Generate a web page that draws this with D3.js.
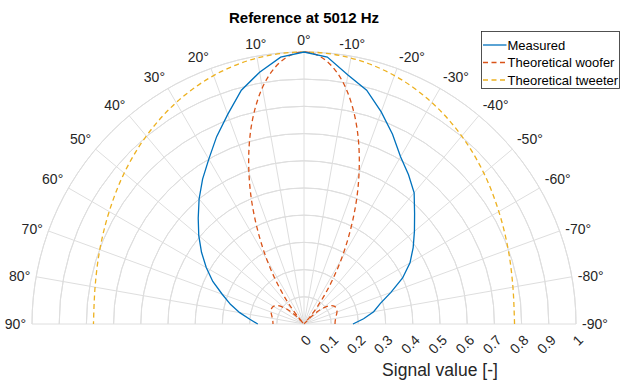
<!DOCTYPE html>
<html lang="en">
<head>
<meta charset="UTF-8">
<title>Reference at 5012 Hz</title>
<script src="https://cdn.jsdelivr.net/npm/d3@7"></script>
<style>
  body, html { margin: 0; background: #fff; }
  svg { display: block; font-family: "Liberation Sans", Arial, sans-serif; }
  .tick-label { font-size: 14px; fill: #262626; }
</style>
</head>
<body>
<svg id="chart" width="621" height="383"></svg>
<script>
// angles in degrees, positive = counter-clockwise from the top (MATLAB polar)
const thetaTicks = [-90, -80, -70, -60, -50, -40, -30, -20, -10, 0, 10, 20, 30, 40, 50, 60, 70, 80, 90];
const thetaTickLabels = ["-90°", "-80°", "-70°", "-60°", "-50°", "-40°", "-30°", "-20°", "-10°", "0°",
                         "10°", "20°", "30°", "40°", "50°", "60°", "70°", "80°", "90°"];
const rTicks = [0, 0.1, 0.2, 0.3, 0.4, 0.5, 0.6, 0.7, 0.8, 0.9, 1];
const rTickLabels = ["0", "0.1", "0.2", "0.3", "0.4", "0.5", "0.6", "0.7", "0.8", "0.9", "1"];

const seriesNames = ["Measured", "Theoretical woofer", "Theoretical tweeter"];

const measuredAngles = [-90, -85, -80, -75, -70, -65, -60, -55, -50, -45, -40, -35, -30, -25, -20, -15, -10, -5,
                        0, 5, 10, 15, 20, 25, 30, 35, 40, 45, 50, 55, 60, 65, 70, 75, 80, 85, 90];
const measuredValues = [0.18, 0.22, 0.26, 0.29, 0.34, 0.40, 0.45, 0.49, 0.53, 0.575, 0.63, 0.67, 0.71, 0.77, 0.83, 0.89, 0.93, 0.985,
                        1.0, 0.985, 0.94, 0.89, 0.82, 0.76, 0.70, 0.65, 0.60, 0.55, 0.505, 0.46, 0.415, 0.37, 0.32, 0.28, 0.24, 0.20, 0.17];

const wooferAngles = [-90, -85, -80, -75, -70, -65, -60, -55, -50, -47.5, -45, -42, -40, -37.5, -35, -32.5, -30, -27.5,
                      -25, -22.5, -20, -17.5, -15, -12.5, -10, -7.5, -5, -2.5, 0, 2.5, 5, 7.5, 10, 12.5, 15, 17.5,
                      20, 22.5, 25, 27.5, 30, 32.5, 35, 37.5, 40, 42, 45, 47.5, 50, 55, 60, 65, 70, 75, 80, 85, 90];
const wooferValues = [0.114, 0.115, 0.118, 0.123, 0.129, 0.132, 0.130, 0.118, 0.090, 0.068, 0.041, 0.002, 0.034, 0.083,
                      0.139, 0.202, 0.273, 0.347, 0.427, 0.510, 0.592, 0.673, 0.750, 0.820, 0.882, 0.932, 0.969, 0.992,
                      1.0, 0.992, 0.969, 0.932, 0.882, 0.820, 0.750, 0.673, 0.592, 0.510, 0.427, 0.347, 0.273, 0.202,
                      0.139, 0.083, 0.034, 0.002, 0.041, 0.068, 0.090, 0.118, 0.130, 0.132, 0.129, 0.123, 0.118, 0.115, 0.114];

const tweeterAngles = [-90, -80, -70, -60, -50, -40, -30, -20, -10, 0, 10, 20, 30, 40, 50, 60, 70, 80, 90];
const tweeterValues = [0.774, 0.780, 0.799, 0.827, 0.863, 0.902, 0.940, 0.972, 0.993, 1.0,
                       0.993, 0.972, 0.940, 0.902, 0.863, 0.827, 0.799, 0.780, 0.774];

const colors = ["#0072BD", "#D95319", "#EDB120"];

const svg = d3.select("#chart");
const cx = 304, cy = 324, R = 272;
const r = d3.scaleLinear().domain([0, 1]).range([0, R]);
const rad = d => d * Math.PI / 180;

const g = svg.append("g").attr("transform", `translate(${cx},${cy})`);

// grid: rings
const arc = d3.arc().startAngle(-Math.PI / 2).endAngle(Math.PI / 2);
g.selectAll("path.ring")
  .data(rTicks.slice(1))
  .enter().append("path")
  .attr("class", "ring")
  .attr("d", d => arc({innerRadius: r(d), outerRadius: r(d)}))
  .attr("fill", "none")
  .attr("stroke", "#dedede")
  .attr("stroke-width", 1);

// grid: spokes
g.selectAll("line.spoke")
  .data(thetaTicks)
  .enter().append("line")
  .attr("class", "spoke")
  .attr("x1", 0).attr("y1", 0)
  .attr("x2", d => -r(1) * Math.sin(rad(d)))
  .attr("y2", d => -r(1) * Math.cos(rad(d)))
  .attr("stroke", "#dedede")
  .attr("stroke-width", 1);

// series
const radial = d3.lineRadial()
  .angle(d => -rad(d[0]))
  .radius(d => r(d[1]));

g.append("path")
  .attr("d", radial.curve(d3.curveCatmullRom)(d3.zip(tweeterAngles, tweeterValues)))
  .attr("fill", "none").attr("stroke", colors[2]).attr("stroke-width", 1.3)
  .attr("stroke-dasharray", "5,3.5");

g.append("path")
  .attr("d", radial.curve(d3.curveCatmullRom)(d3.zip(wooferAngles, wooferValues)))
  .attr("fill", "none").attr("stroke", colors[1]).attr("stroke-width", 1.3)
  .attr("stroke-dasharray", "5,3.5");

g.append("path")
  .attr("d", radial.curve(d3.curveLinear)(d3.zip(measuredAngles, measuredValues)))
  .attr("fill", "none").attr("stroke", colors[0]).attr("stroke-width", 1.3);

// angle labels
thetaTicks.forEach((t, i) => {
  const x = -(R + 6) * Math.sin(rad(t));
  const y = -(R + 6) * Math.cos(rad(t));
  const anchor = Math.abs(t) < 15 ? "middle" : (t > 0 ? "end" : "start");
  const yc = Math.abs(t) >= 65 ? y : y - 6;
  g.append("text")
    .attr("class", "tick-label")
    .attr("x", x).attr("y", yc).attr("dy", "0.35em")
    .attr("text-anchor", anchor)
    .text(thetaTickLabels[i]);
});

// radial tick labels (rotated)
rTicks.forEach((v, i) => {
  g.append("text")
    .attr("class", "tick-label")
    .attr("transform", `translate(${r(v) + 8},17) rotate(-45)`)
    .attr("text-anchor", "end")
    .text(rTickLabels[i]);
});

// axis label
svg.append("text")
  .attr("x", 440).attr("y", 376)
  .attr("text-anchor", "middle")
  .attr("font-size", "17.5px")
  .attr("fill", "#262626")
  .text("Signal value [-]");

// title
svg.append("text")
  .attr("x", cx).attr("y", 23)
  .attr("text-anchor", "middle")
  .attr("font-size", "15px")
  .attr("font-weight", "bold")
  .attr("fill", "#000")
  .text("Reference at 5012 Hz");

// legend
const lg = svg.append("g").attr("transform", "translate(481.5,31.5)");
lg.append("rect")
  .attr("width", 138).attr("height", 57)
  .attr("fill", "#fff").attr("stroke", "#262626").attr("stroke-width", 0.8);
seriesNames.forEach((name, i) => {
  const y = 13.5 + i * 17.5;
  lg.append("line")
    .attr("x1", 1.5).attr("x2", 25).attr("y1", y).attr("y2", y)
    .attr("stroke", colors[i]).attr("stroke-width", 1.3)
    .attr("stroke-dasharray", i === 0 ? null : "5,3.5");
  lg.append("text")
    .attr("x", 26).attr("y", y).attr("dy", "0.35em")
    .attr("font-size", "13px").attr("fill", "#000")
    .text(name);
});
</script>
</body>
</html>
